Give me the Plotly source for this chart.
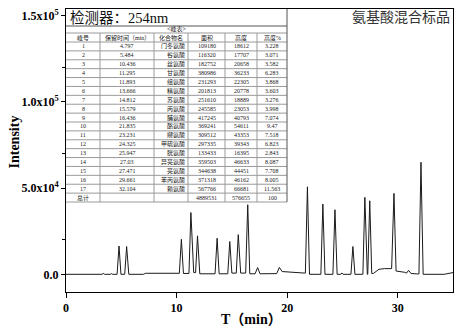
import plotly.graph_objects as go

# ---------------- data ----------------
# chromatogram trace (time in min, intensity)
t_trace = [0, 3.25, 3.37, 3.5, 4.0, 4.1, 4.2,
           4.62, 4.797, 4.97, 5.31, 5.484, 5.68, 7.0, 7.2,
           10.25, 10.436, 10.62, 11.12, 11.295, 11.55, 11.72, 11.893, 12.1,
           13.48, 13.666, 13.85, 14.63, 14.812, 15.0, 15.4, 15.579, 15.8,
           16.25, 16.436, 16.62, 17.1, 17.33, 17.55, 19.05, 19.3, 19.55, 21.6,
           21.65, 21.835, 22.02, 23.05, 23.231, 23.42, 24.14, 24.325, 24.52,
           24.85, 24.95, 25.05, 25.77, 25.947, 26.13, 26.85, 27.03, 27.25,
           27.29, 27.471, 27.65, 27.8, 28.3, 28.8, 29.45, 29.661, 29.85,
           30.6, 30.8, 30.98, 31.2, 31.8, 31.92, 32.104, 32.3, 34.2, 35.0]
y_trace = [0, 0, 500, 0, 0, 400, 0,
           0, 16400, 0, 0, 16100, 0, 0, 600,
           600, 20300, 500, 500, 35800, 1000, 1000, 22300, 300,
           300, 20900, 300, 300, 19000, 700, 700, 23000, 700,
           700, 40300, 300, 300, 3900, 300, 400, 4000, 1600, 700,
           700, 50700, 0, 0, 40700, 0, 0, 37400, 0,
           0, 800, 0, 0, 16100, 0, 0, 44600, 0,
           0, 42600, 500, 500, 2900, 3300, 3300, 46900, 1900,
           1200, 700, 2300, 500, 200, 200, 64900, 0, 0, 1000]

# peak table
peak_no = ["1", "2", "3", "4", "5", "6", "7", "8", "9", "10", "11", "12", "13",
           "14", "15", "16", "17", "总计"]
ret_time = ["4.797", "5.484", "10.436", "11.295", "11.893", "13.666", "14.812",
            "15.579", "16.436", "21.835", "23.231", "24.325", "25.947", "27.03",
            "27.471", "29.661", "32.104", ""]
compound = ["门冬氨酸", "谷氨酸", "丝氨酸", "甘氨酸", "组氨酸", "精氨酸", "苏氨酸",
            "丙氨酸", "脯氨酸", "酪氨酸", "缬氨酸", "甲硫氨酸", "胱氨酸", "异亮氨酸",
            "亮氨酸", "苯丙氨酸", "赖氨酸", ""]
area = ["109180", "116320", "182752", "380986", "231293", "201813", "251610",
        "245585", "417245", "369241", "309512", "297335", "133433", "359503",
        "344638", "371318", "567766", "4889531"]
height = ["18612", "17707", "20658", "36233", "22305", "20778", "18889", "23053",
          "40793", "54611", "43353", "39343", "16395", "46633", "44451", "46162",
          "66681", "576655"]
height_pct = ["3.228", "3.071", "3.582", "6.283", "3.868", "3.603", "3.276",
              "3.998", "7.074", "9.47", "7.518", "6.823", "2.843", "8.087", "7.708",
              "8.005", "11.563", "100"]
headers = ["峰号", "保留时间（min）", "化合物名", "面积", "高度", "高度%"]

x_ticks = [0, 10, 20, 30]
y_ticks = [0, 50000, 100000, 150000]
y_ticktext = ["0.0", "5.0x10<sup>4</sup>", "1.0x10<sup>5</sup>", "1.5x10<sup>5</sup>"]
y_minor = [20000, 70000, 120000]

# ---------------- layout geometry (pixels) ----------------
W, H = 460, 328
L, R, T, B = 66, 453, 9, 292


def px(x):
    return (x - L) / (R - L)


def py(y):
    return (B - y) / (B - T)


SERIF = "Liberation Serif, Noto Sans CJK SC"
CJK = "Noto Sans CJK SC"

fig = go.Figure()
fig.add_trace(go.Scatter(x=t_trace, y=y_trace, mode="lines",
                         line=dict(color="#1a1a1a", width=1),
                         hoverinfo="skip", showlegend=False))

shapes = []
annotations = []
grid = "#9a9a9a"

# table geometry
tx0, tx1 = 66, 287
ty_top, ty_title, ty_sub, ty_head = 9, 26, 33, 42
ty_bot = 202
col_edges = [66, 100, 154, 188, 225, 257, 287]
nrows = len(peak_no)
row_h = (ty_bot - ty_head) / nrows


def hline(x0, x1, y, color=grid):
    shapes.append(dict(type="line", xref="paper", yref="paper",
                       x0=px(x0), x1=px(x1), y0=py(y), y1=py(y),
                       line=dict(color=color, width=1)))


def vline(x, y0, y1, color=grid):
    shapes.append(dict(type="line", xref="paper", yref="paper",
                       x0=px(x), x1=px(x), y0=py(y0), y1=py(y1),
                       line=dict(color=color, width=1)))


# white background for table
shapes.append(dict(type="rect", xref="paper", yref="paper", layer="below",
                   x0=px(tx0), x1=px(tx1), y0=py(ty_bot), y1=py(ty_top),
                   fillcolor="white", line=dict(width=0)))
hline(tx0, tx1, ty_title, "#555")
hline(tx0, tx1, ty_sub)
hline(tx0, tx1, ty_head)
for i in range(1, nrows + 1):
    hline(tx0, tx1, ty_head + i * row_h)
vline(tx1, ty_top, ty_bot, "#555")
for xe in col_edges[1:-1]:
    vline(xe, ty_sub, ty_bot)


def text(x, y, s, size, family=SERIF, xanchor="center", color="#222", weight=None):
    if not s:
        return
    f = dict(size=size, family=family, color=color)
    if weight:
        f["weight"] = weight
    annotations.append(dict(x=px(x), y=py(y), xref="paper", yref="paper",
                            text=s, showarrow=False, xanchor=xanchor,
                            yanchor="middle", font=f))


text(68, 17.5, "检测器：254nm", 14.5, xanchor="left", color="#111")
text((tx0 + tx1) / 2, 29.5, "&lt;峰表&gt;", 6)
centers = [(col_edges[i] + col_edges[i + 1]) / 2 for i in range(6)]
for c, h in zip(centers, headers):
    text(c, (ty_sub + ty_head) / 2, h, 6)
cols = [peak_no, ret_time, compound, area, height, height_pct]
for r in range(nrows):
    yc = ty_head + (r + 0.5) * row_h
    for ci, col in enumerate(cols):
        if ci == 2:
            text(col_edges[3] - 1, yc, col[r], 6, xanchor="right")
        else:
            text(centers[ci], yc, col[r], 6)

# top-right title
text(452, 16.5, "氨基酸混合标品", 14, family=CJK, xanchor="right", color="#333")
# axis titles
annotations.append(dict(x=px(13.5), y=py(142), xref="paper", yref="paper",
                        text="Intensity", textangle=-90, showarrow=False,
                        xanchor="center", yanchor="middle",
                        font=dict(family=SERIF, size=14, color="black", weight="bold")))
text(251, 319, "T（min）", 14, color="black", weight="bold")

fig.update_layout(
    width=W, height=H,
    margin=dict(l=L, r=W - R, t=T, b=H - B, pad=0),
    paper_bgcolor="white", plot_bgcolor="white",
    shapes=shapes, annotations=annotations,
    xaxis=dict(range=[0, 35], tickvals=x_ticks, ticks="outside", ticklen=5,
               tickwidth=1, tickcolor="black", showline=True, linecolor="black",
               linewidth=1, mirror=True, showgrid=False, zeroline=False,
               tickfont=dict(family=SERIF, size=12, color="black", weight="bold")),
    yaxis=dict(range=[-10250, 153700], tickvals=y_ticks, ticktext=y_ticktext,
               ticks="outside", ticklen=4, tickwidth=1, tickcolor="black",
               showline=True, linecolor="black", linewidth=1, mirror=True,
               showgrid=False, zeroline=False,
               minor=dict(tickvals=y_minor, ticks="outside", ticklen=3,
                          tickcolor="black"),
               tickfont=dict(family=SERIF, size=12, color="black", weight="bold")),
)

fig.write_html("out.html")
